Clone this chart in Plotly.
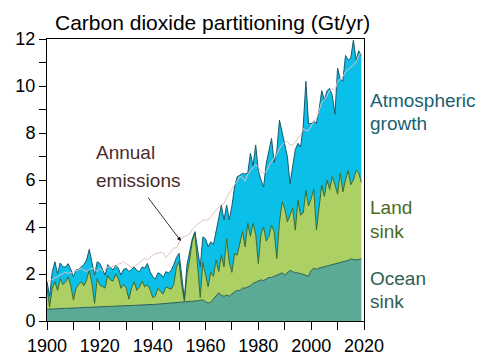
import plotly.graph_objects as go

years = list(range(1900, 2020))

ocean_sink = [
    0.50, 0.51, 0.51, 0.52, 0.52, 0.53, 0.53, 0.54, 0.54, 0.55,
    0.55, 0.56, 0.56, 0.57, 0.57, 0.58, 0.58, 0.59, 0.59, 0.60,
    0.60, 0.61, 0.61, 0.62, 0.62, 0.63, 0.63, 0.64, 0.64, 0.65,
    0.65, 0.66, 0.66, 0.67, 0.67, 0.68, 0.68, 0.69, 0.69, 0.70,
    0.70, 0.71, 0.71, 0.72, 0.72, 0.73, 0.73, 0.74, 0.75, 0.76,
    0.78, 0.79, 0.80, 0.81, 0.82, 0.83, 0.84, 0.86, 0.88, 0.90,
    0.82, 0.76, 0.80, 0.95, 1.10, 1.20, 1.10, 1.05, 1.10, 1.06,
    1.15, 1.25, 1.30, 1.30, 1.40, 1.40, 1.45, 1.50, 1.60, 1.65,
    1.70, 1.75, 1.72, 1.80, 1.85, 1.85, 1.90, 1.98, 2.00, 2.05,
    1.96, 2.05, 2.15, 2.10, 2.05, 2.05, 2.02, 2.00, 1.95, 1.90,
    2.15, 2.25, 2.20, 2.25, 2.28, 2.30, 2.32, 2.35, 2.40, 2.42,
    2.45, 2.48, 2.50, 2.55, 2.58, 2.64, 2.62, 2.60, 2.62, 2.64,
]

land_sink = [
    0.89, 0.09, 0.89, 1.15, 0.78, 1.28, 1.02, 1.11, 1.34, 0.95,
    0.34, 0.83, 0.99, 1.10, 0.93, 1.17, 1.59, 1.01, 0.16, 1.21,
    0.93, 0.84, 0.79, 1.33, 1.13, 1.07, 1.37, 1.16, 0.75, 0.90,
    0.74, 0.27, 0.74, 1.00, 0.63, 0.77, 1.02, 0.76, 0.86, 0.65,
    0.30, 0.34, 0.69, 0.53, 0.43, 0.72, 0.67, 0.61, 0.80, 1.54,
    1.74, 0.71, 0.05, 1.19, 1.78, 2.57, 2.89, 1.54, 0.12, 1.60,
    1.18, 0.70, 1.27, 0.95, 1.49, 0.90, 1.70, 1.25, 2.40, 1.44,
    0.92, 1.62, 1.50, 2.00, 2.40, 1.76, 2.70, 2.10, 2.55, 2.05,
    0.75, 1.95, 2.28, 1.60, 1.75, 2.23, 1.90, 0.68, 2.20, 3.02,
    2.82, 2.17, 2.35, 2.70, 1.82, 3.10, 2.48, 2.60, 3.62, 3.00,
    3.05, 3.35, 1.67, 2.55, 3.50, 3.00, 3.68, 3.25, 3.74, 3.38,
    2.95, 3.82, 3.00, 3.45, 3.82, 3.16, 3.38, 3.80, 3.68, 3.26,
]

atmospheric_growth = [
    0.28, 0.45, 0.70, 0.85, 0.70, 0.66, 0.75, 0.65, 0.56, 0.70,
    0.99, 0.78, 0.65, 0.64, 0.90, 0.85, 0.88, 0.90, 1.20, 0.71,
    0.92, 0.75, 0.55, 0.45, 0.55, 0.47, 0.38, 0.45, 0.56, 0.65,
    0.85, 1.17, 0.80, 0.63, 0.85, 0.65, 0.60, 0.80, 0.90, 0.75,
    0.90, 0.73, 0.65, 0.75, 0.70, 0.65, 0.65, 0.80, 0.85, 0.40,
    0.36, 0.50, 0.10, 0.40, 0.40, 0.10, 0.07, 0.60, 1.30, 1.08,
    1.50, 1.70, 1.30, 1.35, 1.28, 2.30, 2.13, 2.00, 1.43, 1.80,
    2.83, 2.83, 3.34, 2.90, 2.48, 3.09, 2.15, 3.53, 2.45, 3.79,
    3.95, 2.30, 1.70, 3.30, 3.70, 3.69, 2.95, 4.59, 4.35, 2.93,
    2.78, 2.78, 1.34, 1.70, 3.43, 2.41, 2.90, 3.70, 4.63, 3.50,
    3.20, 2.90, 4.53, 4.20, 4.02, 4.10, 3.80, 4.30, 3.46, 3.00,
    5.36, 4.00, 4.70, 5.30, 4.70, 5.40, 5.96, 4.70, 5.20, 5.40,
]

annual_emissions = [
    1.67, 1.72, 1.76, 1.85, 1.88, 1.95, 2.00, 2.08, 2.02, 2.06,
    2.10, 2.12, 2.18, 2.25, 2.15, 2.12, 2.20, 2.25, 2.20, 2.10,
    2.25, 2.12, 2.20, 2.30, 2.30, 2.33, 2.32, 2.42, 2.45, 2.52,
    2.45, 2.35, 2.28, 2.32, 2.42, 2.48, 2.58, 2.66, 2.60, 2.72,
    2.82, 2.88, 2.88, 2.92, 2.90, 2.70, 2.82, 3.00, 3.12, 3.10,
    3.35, 3.52, 3.58, 3.65, 3.70, 3.90, 4.02, 4.12, 4.18, 4.30,
    4.30, 4.30, 4.45, 4.60, 4.75, 4.85, 4.95, 5.00, 5.25, 5.45,
    5.65, 5.80, 5.95, 6.15, 6.10, 5.95, 6.25, 6.40, 6.50, 6.65,
    6.55, 6.35, 6.30, 6.35, 6.60, 6.80, 6.95, 7.10, 7.35, 7.50,
    7.60, 7.65, 7.50, 7.50, 7.60, 7.80, 7.90, 8.20, 8.10, 8.10,
    8.30, 8.50, 8.60, 9.00, 9.30, 9.40, 9.60, 9.80, 9.90, 9.80,
    10.20, 10.30, 10.40, 10.60, 10.70, 10.80, 10.90, 11.00, 11.30, 11.40,
]

y_tickvals = [0, 2, 4, 6, 8, 10, 12]
x_tickvals = [1900, 1920, 1940, 1960, 1980, 2000, 2020]

FONT = "Liberation Sans, Arial, sans-serif"

fig = go.Figure()
fig.add_trace(go.Scatter(x=years, y=ocean_sink, stackgroup="s", mode="lines",
                         line=dict(color="#2a6050", width=1),
                         fillcolor="#5aaa96", name="Ocean sink"))
fig.add_trace(go.Scatter(x=years, y=land_sink, stackgroup="s", mode="lines",
                         line=dict(color="#3f6a24", width=1),
                         fillcolor="#acd064", name="Land sink"))
fig.add_trace(go.Scatter(x=years, y=atmospheric_growth, stackgroup="s", mode="lines",
                         line=dict(color="#165a6c", width=1),
                         fillcolor="#0abfe8", name="Atmospheric growth"))
fig.add_trace(go.Scatter(x=years, y=annual_emissions, mode="lines",
                         line=dict(color="#e6c0c8", width=1),
                         name="Annual emissions"))

# The page body has an 8px margin; the figure is sized so it fills the 500x363 window.
OFF = 8
W, Hfig = 500 - OFF, 363 - OFF
PL, PR, PT, PB = 47, 364, 39, 321   # plot box in window pixels
L, R, T, B = PL - OFF, 500 - PR, PT - OFF, 363 - PB

def py(px):
    return (PB - px) / (PB - PT)

def px_x(px):
    return (px - PL) / (PR - PL)

annotations = []
def txt(s, x, y, color, size=19, anchor="left"):
    annotations.append(dict(text=s, xref="paper", yref="paper", x=px_x(x), y=py(y),
                            xanchor=anchor, yanchor="middle", showarrow=False,
                            font=dict(family=FONT, size=size, color=color)))

txt("Carbon dioxide partitioning (Gt/yr)", 212, 23, "#000000", size=21, anchor="center")
txt("Atmospheric", 368, 100, "#1a5f72")
txt("growth", 368, 123, "#1a5f72")
txt("Land", 368, 208, "#4a6b1f")
txt("sink", 368, 231, "#4a6b1f")
txt("Ocean", 368, 278, "#2e5e55")
txt("sink", 368, 301, "#2e5e55")
txt("Annual", 94, 152, "#4a2c2c")
txt("emissions", 94, 180, "#4a2c2c")

annotations.append(dict(text="", x=1950.7, y=3.4, xref="x", yref="y",
                        showarrow=True, ax=-34, ay=-45, arrowhead=2,
                        arrowsize=1, arrowwidth=0.8, arrowcolor="#000000"))

axis_common = dict(ticks="outside", tickcolor="#000000", tickwidth=1, showline=True,
                   linecolor="#000000", linewidth=1, mirror=True, showgrid=False,
                   zeroline=False, automargin=False,
                   tickfont=dict(family=FONT, size=18, color="#000000"))

fig.update_layout(
    width=W, height=Hfig,
    margin=dict(l=L, r=R, t=T, b=B, autoexpand=False),
    paper_bgcolor="white", plot_bgcolor="white",
    showlegend=False,
    font=dict(family=FONT, size=18, color="#000000"),
    annotations=annotations,
    xaxis=dict(range=[1900, 2020], tickvals=x_tickvals, ticklen=8,
               minor=dict(dtick=10, ticks="outside", ticklen=8, tickcolor="#000000", showgrid=False),
               **axis_common),
    yaxis=dict(range=[0, 12], tickvals=y_tickvals, ticklen=7,
               minor=dict(dtick=1, ticks="outside", ticklen=7, tickcolor="#000000", showgrid=False),
               **axis_common),
)

fig.write_html("out.html")
